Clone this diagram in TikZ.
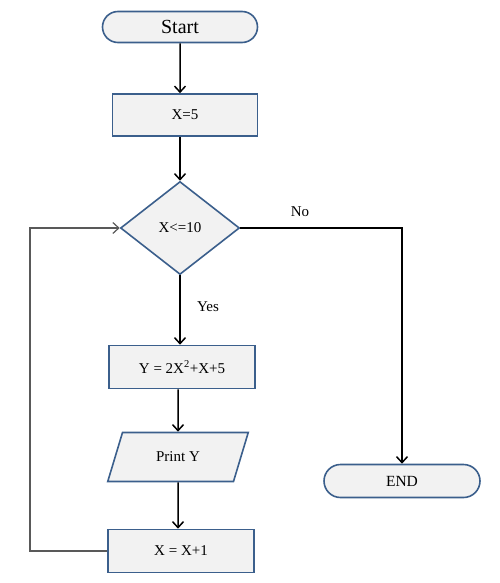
\documentclass[tikz,border=0pt]{standalone}
\usepackage{fontspec}
\setmainfont{Liberation Serif}
\usetikzlibrary{shapes.geometric,shapes.misc,arrows.meta}
\definecolor{boxfill}{HTML}{F2F2F2}
\definecolor{boxline}{HTML}{3B5F8C}
\definecolor{loopgray}{HTML}{595959}
\begin{document}
\begin{tikzpicture}[x=1pt,y=-1pt,
 base/.style={draw=boxline,fill=boxfill,line width=1.6pt,inner sep=0pt,font=\fontsize{15}{17}\selectfont},
 term/.style={base,rounded rectangle,minimum width=155pt,minimum height=31pt},
 proc/.style={base,rectangle,minimum width=145pt,minimum height=42pt},
 dec/.style={base,diamond,minimum width=119pt,minimum height=93pt},
 io/.style={base,trapezium,trapezium left angle=60,trapezium right angle=120,trapezium stretches=true,minimum width=141pt,minimum height=49pt},
 arr/.style={line width=1.5pt,-{Straight Barb[length=6pt,width=11pt,line width=1.5pt]}},
 lbl/.style={font=\fontsize{15}{17}\selectfont}]
 \useasboundingbox (0,0) rectangle (499,583);
 \node[term,font=\fontsize{20}{22}\selectfont] (start) at (180,27) {Start};
 \node[proc] (xfive) at (185,115) {X=5};
 \node[dec] (test) at (180,228) {X<=10};
 \node[proc,minimum width=146pt,minimum height=43pt] (ycalc) at (182,367) {Y = 2X\textsuperscript{2}+X+5};
 \node[io] (print) at (178,457) {Print Y};
 \node[proc,minimum width=146pt,minimum height=43pt] (xinc) at (181,551) {X = X+1};
 \node[term,minimum width=156pt,minimum height=33pt,font=\fontsize{15.5}{17}\selectfont] (stop) at (402,481) {END};
 \coordinate (back) at (30,553);
 \node[lbl] (no) at (300,212) {No};
 \node[lbl] (yes) at (208,307) {Yes};
 \draw[arr] (start) -- (start |- xfive.north);
 \draw[arr] (xfive.south -| test) -- (test.north);
 \draw[arr] (test.south) -- (test |- ycalc.north);
 \draw[arr] (ycalc.south -| print) -- (print.north);
 \draw[arr] (print.south) -- (print |- xinc.north);
 \draw[arr] (test.east) -| (stop.north);
 \draw[loopgray,line width=1.2pt,-{Straight Barb[length=6pt,width=11pt,line width=1.2pt]}] (xinc.west) -- (xinc.west -| back) |- (test.west);
\end{tikzpicture}
\end{document}
